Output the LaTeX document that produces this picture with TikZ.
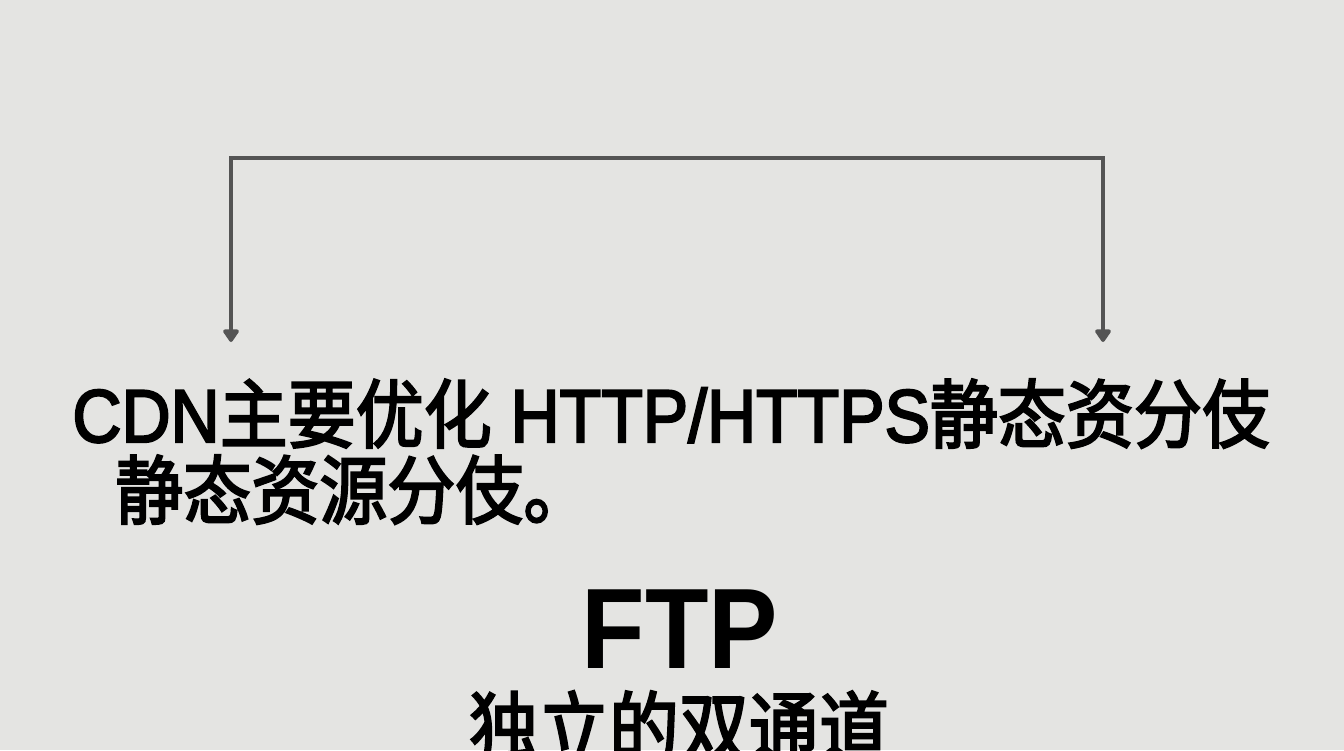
\documentclass[tikz,border=0pt]{standalone}
\usepackage{fontspec}
\setmainfont{Liberation Sans}
\newfontfamily\heavy{Liberation Sans}[FakeBold=3]
\newfontfamily\cjk{Noto Sans CJK SC}[FakeBold=3]
\usetikzlibrary{arrows.meta}
\definecolor{paper}{RGB}{228,228,226}
\definecolor{wire}{RGB}{84,84,84}
\tikzset{bracket/.style={draw=wire,line width=1.8pt,{Triangle[width=9pt,length=7pt,round]}-{Triangle[width=9pt,length=7pt,round]}}}
\tikzset{caption/.style={inner sep=0pt,anchor=base west,font=\fontsize{34}{40}\selectfont\heavy}}
\tikzset{title/.style={inner sep=0pt,anchor=base}}
\newcommand{\tall}[1]{\scalebox{1}[1.1]{#1}}

\begin{document}
\begin{tikzpicture}[x=0.5pt,y=-0.5pt]
    		\fill[paper] (0,0) rectangle (1344,750);
    		\useasboundingbox (0,0) rectangle (1344,750);
    		\clip (0,0) rectangle (1344,750);
    		\coordinate (lefttip) at (231,342);
    		\coordinate (lefttop) at (231,158);
    		\coordinate (righttop) at (1103,158);
    		\coordinate (righttip) at (1103,342);
    		\draw [bracket] (lefttip) -- (lefttop) -- (righttop) -- (righttip);
    		\node[caption] (lineone) at (72,442) {\tall{CDN{\cjk 主要优化} HTTP/HTTPS{\cjk 静态资分伎}}};
    		\node[caption] (linetwo) at (115,518) {\tall{\cjk 静态资源分伎。}};
    		\node[title, font=\fontsize{52}{60}\selectfont\bfseries] (ftp) at (680,668) {\tall{FTP}};
    		\node[title, font=\fontsize{35}{42}\selectfont] (channel) at (679,756) {\tall{\cjk 独立的双通道}};
		\end{tikzpicture}
\end{document}
